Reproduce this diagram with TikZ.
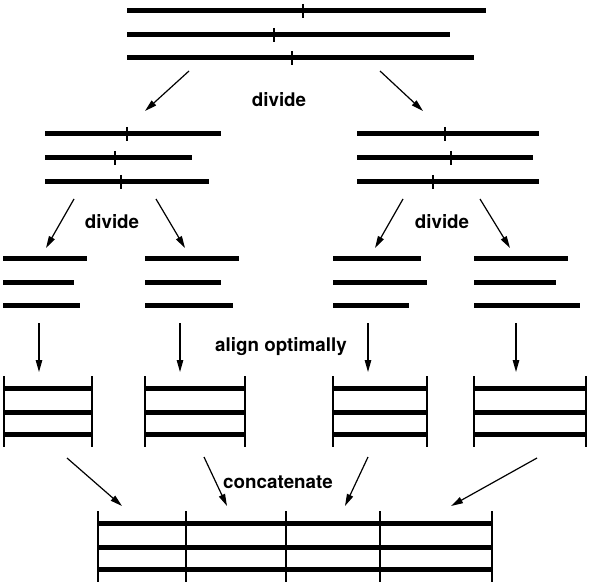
\documentclass[tikz,border=0pt]{standalone}
\usepackage{fontspec}
\setmainfont{TeX Gyre Heros}
\usepackage{tikz}
\usetikzlibrary{arrows.meta}

\begin{document}
\begin{tikzpicture}[
  x=1pt, y=-1pt,
  every node/.style={font=\fontsize{18.8}{21}\selectfont\bfseries},
  seqline/.style={line width=5pt},
  tick/.style={line width=2pt},
  bar/.style={line width=1.6pt},
  arrow/.style={-{Triangle[length=12pt, width=6.5pt]}, line width=1.2pt}
]
\useasboundingbox (0,0) rectangle (591,585);

%--- Level 0: full sequences ---%
\draw[seqline] (127,11) -- (486,11);
\draw[seqline] (127,35) -- (450,35);
\draw[seqline] (127,58) -- (474,58);
\draw[tick] (303,4) -- (303,18);
\draw[tick] (274,28) -- (274,42);
\draw[tick] (292,51) -- (292,65);

\coordinate (top-l) at (189,71);
\coordinate (top-r) at (380,71);
\coordinate (mid1-in) at (145,111);
\coordinate (mid2-in) at (423,111);
\node (divide0) at (279,100) {divide};
\draw[arrow] (top-l) -- (mid1-in);
\draw[arrow] (top-r) -- (mid2-in);

%--- Level 1: halves ---%
\draw[seqline] (45,134) -- (221,134);
\draw[seqline] (45,158) -- (192,158);
\draw[seqline] (45,182) -- (209,182);
\draw[tick] (127,127) -- (127,141);
\draw[tick] (115,151) -- (115,165);
\draw[tick] (121,175) -- (121,189);

\draw[seqline] (357,134) -- (539,134);
\draw[seqline] (357,158) -- (533,158);
\draw[seqline] (357,182) -- (539,182);
\draw[tick] (445,127) -- (445,141);
\draw[tick] (451,151) -- (451,165);
\draw[tick] (433,175) -- (433,189);

\coordinate (mid1-l) at (74,199);
\coordinate (mid1-r) at (156,199);
\coordinate (mid2-l) at (403,199);
\coordinate (mid2-r) at (480,199);
\coordinate (frag1-in) at (46,248);
\coordinate (frag2-in) at (185,248);
\coordinate (frag3-in) at (375,248);
\coordinate (frag4-in) at (510,248);
\node (divide1) at (112,222) {divide};
\node (divide2) at (442,222) {divide};
\draw[arrow] (mid1-l) -- (frag1-in);
\draw[arrow] (mid1-r) -- (frag2-in);
\draw[arrow] (mid2-l) -- (frag3-in);
\draw[arrow] (mid2-r) -- (frag4-in);

%--- Level 2: fragments ---%
\draw[seqline] (3,258) -- (87,258);
\draw[seqline] (3,282) -- (74,282);
\draw[seqline] (3,305) -- (80,305);

\draw[seqline] (145,258) -- (239,258);
\draw[seqline] (145,282) -- (221,282);
\draw[seqline] (145,305) -- (233,305);

\draw[seqline] (333,258) -- (421,258);
\draw[seqline] (333,282) -- (427,282);
\draw[seqline] (333,305) -- (409,305);

\draw[seqline] (474,258) -- (568,258);
\draw[seqline] (474,282) -- (556,282);
\draw[seqline] (474,305) -- (580,305);

\coordinate (frag1-out) at (39,323);
\coordinate (frag2-out) at (180,323);
\coordinate (frag3-out) at (368,323);
\coordinate (frag4-out) at (516,323);
\coordinate (aln1-in) at (39,372);
\coordinate (aln2-in) at (180,372);
\coordinate (aln3-in) at (368,372);
\coordinate (aln4-in) at (516,372);
\node (align) at (281,347) {align optimally};
\draw[arrow] (frag1-out) -- (aln1-in);
\draw[arrow] (frag2-out) -- (aln2-in);
\draw[arrow] (frag3-out) -- (aln3-in);
\draw[arrow] (frag4-out) -- (aln4-in);

%--- Level 3: aligned blocks ---%
\foreach \xa/\xb in {4/92, 145/245, 333/427, 474/586} {
  \foreach \yy in {388, 412, 434}
    \draw[seqline] (\xa,\yy) -- (\xb,\yy);
  \draw[bar] (\xa,376) -- (\xa,447);
  \draw[bar] (\xb,376) -- (\xb,447);
}

\coordinate (aln1-out) at (67,458);
\coordinate (aln2-out) at (204,457);
\coordinate (aln3-out) at (368,457);
\coordinate (aln4-out) at (537,458);
\coordinate (cat-in1) at (122,506);
\coordinate (cat-in2) at (227,506);
\coordinate (cat-in3) at (345,506);
\coordinate (cat-in4) at (451,506);
\node (concat) at (278,482) {concatenate};
\draw[arrow] (aln1-out) -- (cat-in1);
\draw[arrow] (aln2-out) -- (cat-in2);
\draw[arrow] (aln3-out) -- (cat-in3);
\draw[arrow] (aln4-out) -- (cat-in4);

%--- Level 4: concatenated alignment ---%
\foreach \yy in {523, 547, 569}
  \draw[seqline] (98,\yy) -- (492,\yy);
\foreach \xx in {98, 186, 286, 380, 492}
  \draw[bar] (\xx,511) -- (\xx,582);

\end{tikzpicture}
\end{document}
